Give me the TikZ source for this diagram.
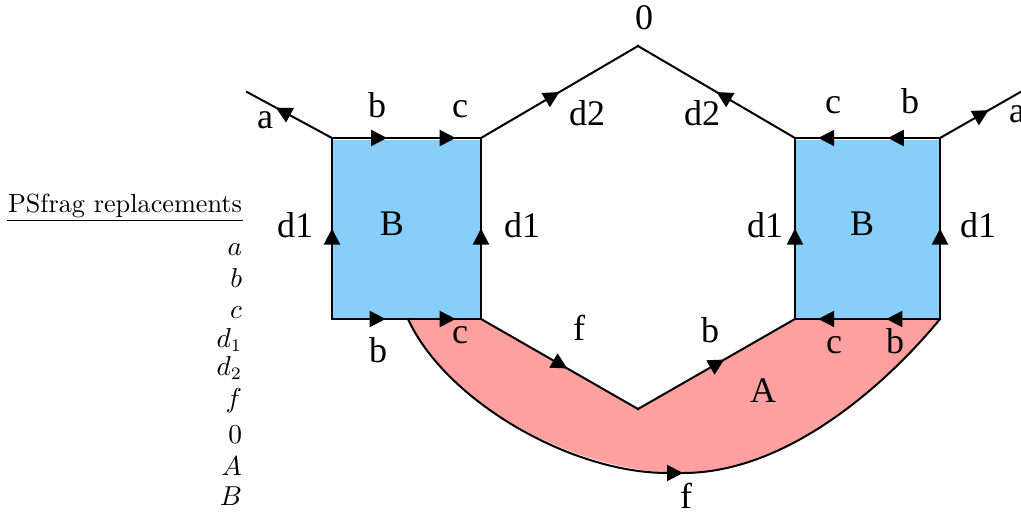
\documentclass[tikz,border=0pt]{standalone}
\usepackage{fontspec}
\newfontfamily\figfont{Liberation Serif}
\usetikzlibrary{arrows.meta,decorations.markings}
\definecolor{boxblue}{RGB}{135,206,250}
\definecolor{bandred}{RGB}{255,160,160}
\tikzset{
    tri/.tip={Triangle[length=6.4pt,width=6.4pt]},
    arr/.style={postaction={decorate,decoration={markings,
        mark=at position #1 with {\arrow{tri}}}}},
    lbl/.style={anchor=base,inner sep=0pt,font=\figfont\fontsize{14.4}{17}\selectfont},
    rep/.style={anchor=base east,inner sep=0pt,font=\fontsize{10.5}{12}\selectfont},
}
\begin{document}
\begin{tikzpicture}[x=0.4pt,y=-0.4pt,line width=0.8pt,line cap=rect]
    \useasboundingbox (0,0) rectangle (1021,513);
    % corners of the two squares and of the hexagon
    \coordinate (ltl) at (332,138);
    \coordinate (ltr) at (481,138);
    \coordinate (lbr) at (481,319);
    \coordinate (lbl) at (332,319);
    \coordinate (rtl) at (795,138);
    \coordinate (rtr) at (940,138);
    \coordinate (rbr) at (940,319);
    \coordinate (rbl) at (795,319);
    \coordinate (top) at (638,46);
    \coordinate (bot) at (638,409);
    \coordinate (q) at (408,319);
    \coordinate (fb) at (683,473);
    \coordinate (al) at (247,92);
    \coordinate (ar) at (1024,90);

    % fills
    \fill[bandred] (q) -- (lbr) -- (bot) -- (rbl) -- (rbr)
        .. controls (890,380) and (790,473) .. (fb)
        .. controls (570,473) and (445,400) .. (q) -- cycle;
    \fill[boxblue] ([yshift=-0.8pt]ltl) rectangle (lbr);
    \fill[boxblue] ([yshift=-0.8pt]rtl) rectangle (rbr);

    % left square
    \draw[arr=0.66] (ltl) -- (al);
    \draw[arr=0.37,arr=0.83] (ltl) -- (ltr);
    \draw[arr=0.5] (lbl) -- (ltl);
    \draw[arr=0.5] (lbr) -- (ltr);
    \draw[arr=0.36,arr=0.83] (lbl) -- (lbr);
    % hexagon
    \draw[arr=0.5] (ltr) -- (top);
    \draw[arr=0.5] (rtl) -- (top);
    \draw[arr=0.55] (lbr) -- (bot);
    \draw[arr=0.55] (bot) -- (rbl);
    % right square
    \draw[arr=0.36,arr=0.84] (rtr) -- (rtl);
    \draw[arr=0.5] (rbl) -- (rtl);
    \draw[arr=0.5] (rbr) -- (rtr);
    \draw[arr=0.37,arr=0.84] (rbr) -- (rbl);
    \draw[arr=0.58] (rtr) -- (ar);
    % lower curve
    \draw[-tri] (q) .. controls (445,400) and (570,473) .. (fb);
    \draw (fb) .. controls (790,473) and (890,380) .. (rbr);

    % labels
    \node[lbl] (la1) at (265,128) {a};
    \node[lbl] (lb1) at (377,117) {b};
    \node[lbl] (lc1) at (460,117) {c};
    \node[lbl] (lzero) at (644,30) {0};
    \node[lbl] (ldtwo1) at (587,125) {d2};
    \node[lbl] (ldtwo2) at (702,125) {d2};
    \node[lbl] (lc2) at (833,113) {c};
    \node[lbl] (lb2) at (910,113) {b};
    \node[lbl] (la2) at (1017,122) {a};
    \node[lbl] (ldone1) at (295,237) {d1};
    \node[lbl] (ldone2) at (522,237) {d1};
    \node[lbl] (ldone3) at (765,237) {d1};
    \node[lbl] (ldone4) at (978,237) {d1};
    \node[lbl] (lB1) at (392,235) {B};
    \node[lbl] (lB2) at (862,235) {B};
    \node[lbl] (lb3) at (378,362) {b};
    \node[lbl] (lc3) at (460,343) {c};
    \node[lbl] (lf1) at (579,340) {f};
    \node[lbl] (lb4) at (710,342) {b};
    \node[lbl] (lc4) at (834,353) {c};
    \node[lbl] (lb5) at (895,353) {b};
    \node[lbl] (lA) at (763,402) {A};
    \node[lbl] (lf2) at (686,508) {f};

    % psfrag list
    \node[rep] (pshead) at (243,212) {PSfrag replacements};
    \draw[line width=0.4pt,line cap=butt] ([yshift=-0.8pt]pshead.south west) -- ([yshift=-0.8pt]pshead.south east);
    \foreach \t/\n/\y in {a/a/255, b/b/287, c/c/318, d_1/done/347, d_2/dtwo/375,
                          f/f/407, 0/zero/443, A/A/475, B/B/505}
        \node[rep] (rep-\n) at (243,\y) {$\t$};
\end{tikzpicture}
\end{document}
